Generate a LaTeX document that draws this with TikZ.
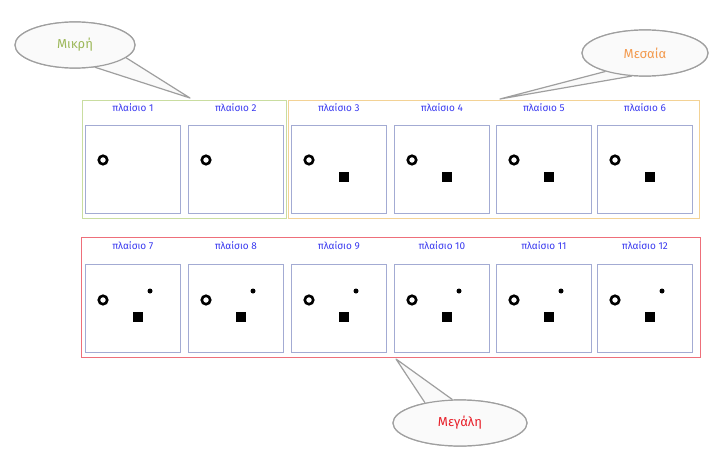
\documentclass[tikz,border=0pt]{standalone}
\usepackage{fontspec}
\setmainfont{Fira Sans}
\usetikzlibrary{shapes.geometric}
\definecolor{lblblue}{HTML}{3B3BF0}
\definecolor{framecol}{HTML}{A3ABD3}
\definecolor{grncol}{HTML}{C9DDA0}
\definecolor{orgcol}{HTML}{F3D295}
\definecolor{redcol}{HTML}{EE6F7A}
\definecolor{mikcol}{HTML}{9DB85A}
\definecolor{mescol}{HTML}{F39A4E}
\definecolor{megcol}{HTML}{E8202A}
\tikzset{
  framebox/.style={draw=framecol, line width=0.8pt, fill=white, minimum width=95pt, minimum height=88pt, inner sep=0pt, anchor=north west},
  lbl/.style={text=lblblue, font=\fontsize{10}{11}\selectfont, inner sep=0pt},
  ring/.style={circle, draw=black, line width=2.6pt, minimum size=8.5pt, inner sep=0pt},
  sq/.style={fill=black, minimum size=10pt, inner sep=0pt},
  dotmark/.style={circle, fill=black, minimum size=5pt, inner sep=0pt},
  group/.style={line width=0.8pt},
  bubble/.style={ellipse, draw=gray!75, line width=1.2pt, fill=gray!4, inner sep=0pt},
  tail/.style={draw=gray!75, line width=1.2pt, fill=gray!4, line join=round},
  btext/.style={font=\fontsize{13}{15}\selectfont}
}
\begin{document}
\begin{tikzpicture}[x=1pt,y=-1pt]
\useasboundingbox (0,0) rectangle (712,452);
\fill[white] (0,0) rectangle (712,452);

% group rectangles
\draw[group, draw=grncol] (82,100) rectangle (286,218);
\draw[group, draw=orgcol] (288,100) rectangle (699,218);
\draw[group, draw=redcol] (81,237) rectangle (700,357);

% top row frames
\foreach \i/\x in {1/85,2/188,3/291,4/394,5/496,6/597}{
  \node[framebox] (f\i) at (\x,125) {};
  \node[lbl] (l\i) at ([yshift=17pt]f\i.north) {πλαίσιο \i};
  \node[ring] (c\i) at ([xshift=18pt,yshift=-35pt]f\i.north west) {};
}
\foreach \i in {3,4,5,6}{
  \node[sq] (s\i) at ([xshift=53pt,yshift=-52pt]f\i.north west) {};
}

% bottom row frames
\foreach \i/\x in {7/85,8/188,9/291,10/394,11/496,12/597}{
  \node[framebox] (f\i) at (\x,264) {};
  \node[lbl] (l\i) at ([yshift=18pt]f\i.north) {πλαίσιο \i};
  \node[ring] (c\i) at ([xshift=18pt,yshift=-36pt]f\i.north west) {};
  \node[sq] (s\i) at ([xshift=53pt,yshift=-53pt]f\i.north west) {};
  \node[dotmark] (d\i) at ([xshift=65pt,yshift=-27pt]f\i.north west) {};
}

% callouts
\coordinate (tmik) at (190,98);
\coordinate (tmes) at (500,99);
\coordinate (tmeg) at (396,359);

\node[bubble, minimum width=120pt, minimum height=46pt] (mik) at (75,45) {};
\draw[tail] (mik.-48) -- (tmik) -- (mik.-14);
\node[bubble, minimum width=120pt, minimum height=46pt] (mik2) at (75,45) {};
\node[btext, text=mikcol] at (mik2) {Μικρή};

\node[bubble, minimum width=126pt, minimum height=46pt] (mes) at (645,53) {};
\draw[tail] (mes.205) -- (tmes) -- (mes.240);
\node[bubble, minimum width=126pt, minimum height=46pt] (mes2) at (645,53) {};
\node[btext, text=mescol] at (mes2) {Μεσαία};

\node[bubble, minimum width=134pt, minimum height=46pt] (meg) at (460,423) {};
\draw[tail] (meg.150) -- (tmeg) -- (meg.108);
\node[bubble, minimum width=134pt, minimum height=46pt] (meg2) at (460,423) {};
\node[btext, text=megcol] at (meg2) {Μεγάλη};
\end{tikzpicture}
\end{document}
